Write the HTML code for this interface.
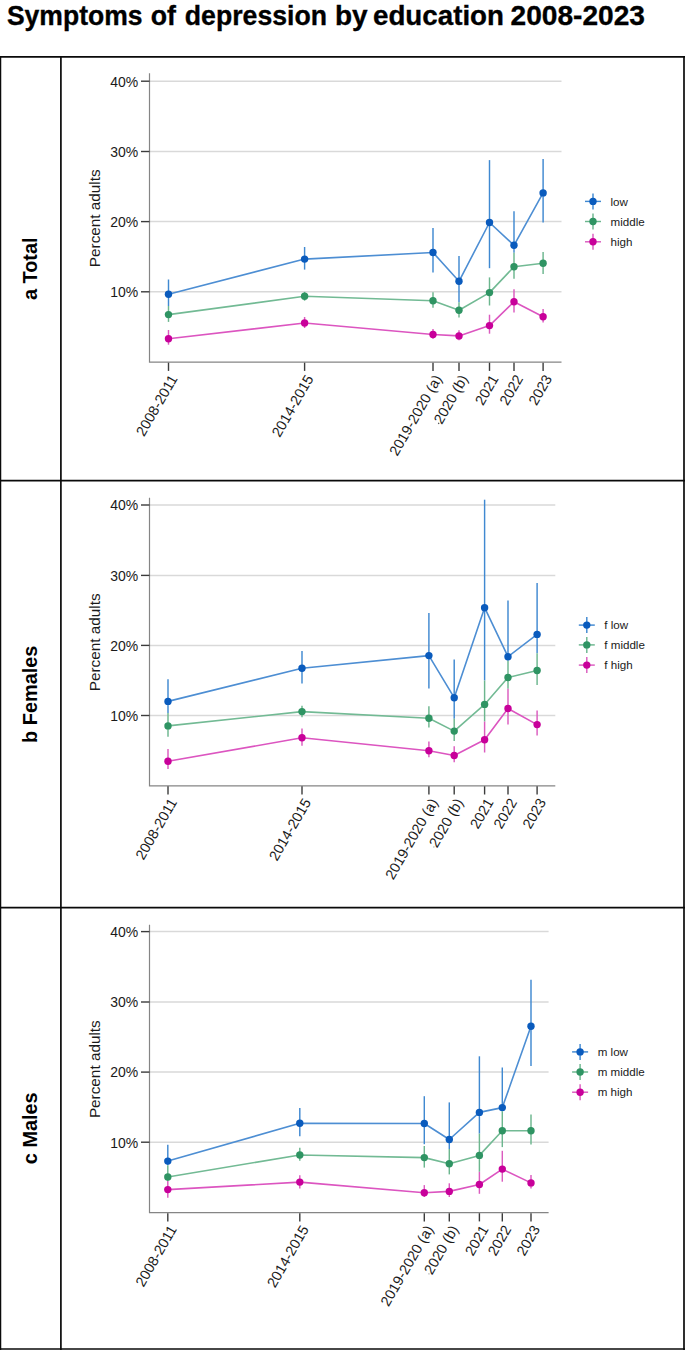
<!DOCTYPE html>
<html><head><meta charset="utf-8"><title>Symptoms of depression by education 2008-2023</title>
<style>
html,body{margin:0;padding:0;background:#fff;}
body{width:685px;height:1350px;overflow:hidden;font-family:"Liberation Sans", sans-serif;}
svg{display:block;}
.t{font-family:"Liberation Sans", sans-serif;}
</style></head><body>
<svg width="685" height="1350" viewBox="0 0 685 1350">
<rect x="0" y="0" width="685" height="1350" fill="#fff"/>
<text class="t" x="6.9" y="25.1" font-size="28.4" font-weight="bold" fill="#000" stroke="#000" stroke-width="0.35" textLength="135.7" lengthAdjust="spacingAndGlyphs">Symptoms</text>
<text class="t" x="150.8" y="25.1" font-size="28.4" font-weight="bold" fill="#000" stroke="#000" stroke-width="0.35" textLength="25.2" lengthAdjust="spacingAndGlyphs">of</text>
<text class="t" x="184.8" y="25.1" font-size="28.4" font-weight="bold" fill="#000" stroke="#000" stroke-width="0.35" textLength="142.2" lengthAdjust="spacingAndGlyphs">depression</text>
<text class="t" x="335" y="25.1" font-size="28.4" font-weight="bold" fill="#000" stroke="#000" stroke-width="0.35" textLength="32.7" lengthAdjust="spacingAndGlyphs">by</text>
<text class="t" x="373" y="25.1" font-size="28.4" font-weight="bold" fill="#000" stroke="#000" stroke-width="0.35" textLength="131" lengthAdjust="spacingAndGlyphs">education</text>
<text class="t" x="510.5" y="25.1" font-size="28.4" font-weight="bold" fill="#000" stroke="#000" stroke-width="0.35" textLength="134.5" lengthAdjust="spacingAndGlyphs">2008-2023</text>
<g stroke="#0a0a0a" stroke-width="1.7" fill="none">
<line x1="0" y1="56.9" x2="685" y2="56.9"/>
<line x1="0" y1="480.7" x2="685" y2="480.7"/>
<line x1="0" y1="907.7" x2="685" y2="907.7"/>
<line x1="0" y1="1349" x2="685" y2="1349"/>
<line x1="0.6" y1="56" x2="0.6" y2="1350" stroke-width="1.3"/>
<line x1="60.9" y1="56" x2="60.9" y2="1350"/>
<line x1="684" y1="56" x2="684" y2="1350"/>
</g>
<text class="t" x="0" y="0" font-size="19.9" font-weight="bold" fill="#000" text-anchor="middle" transform="translate(37.2 268.75) rotate(-90)">a Total</text>
<g stroke="#d9d9d9" stroke-width="1.5">
<line x1="149.5" y1="81.2" x2="561.5" y2="81.2"/>
<line x1="149.5" y1="151.5" x2="561.5" y2="151.5"/>
<line x1="149.5" y1="221.6" x2="561.5" y2="221.6"/>
<line x1="149.5" y1="291.8" x2="561.5" y2="291.8"/>
</g>
<g stroke="#858585" stroke-width="1.2" fill="none">
<polyline points="149.5,73.3 149.5,362.2 561.5,362.2"/>
</g>
<g stroke="#3c3c3c" stroke-width="1.4">
<line x1="141" y1="81.2" x2="149.5" y2="81.2"/>
<line x1="141" y1="151.5" x2="149.5" y2="151.5"/>
<line x1="141" y1="221.6" x2="149.5" y2="221.6"/>
<line x1="141" y1="291.8" x2="149.5" y2="291.8"/>
<line x1="168.5" y1="362.7" x2="168.5" y2="370.9"/>
<line x1="304.6" y1="362.7" x2="304.6" y2="370.9"/>
<line x1="433" y1="362.7" x2="433" y2="370.9"/>
<line x1="459" y1="362.7" x2="459" y2="370.9"/>
<line x1="489.5" y1="362.7" x2="489.5" y2="370.9"/>
<line x1="514" y1="362.7" x2="514" y2="370.9"/>
<line x1="543.1" y1="362.7" x2="543.1" y2="370.9"/>
</g>
<text class="t" x="0" y="0" font-size="15.2" fill="#1a1a1a" text-anchor="end" transform="translate(138.2 86.5) scale(0.92 1)">40%</text>
<text class="t" x="0" y="0" font-size="15.2" fill="#1a1a1a" text-anchor="end" transform="translate(138.2 156.8) scale(0.92 1)">30%</text>
<text class="t" x="0" y="0" font-size="15.2" fill="#1a1a1a" text-anchor="end" transform="translate(138.2 226.9) scale(0.92 1)">20%</text>
<text class="t" x="0" y="0" font-size="15.2" fill="#1a1a1a" text-anchor="end" transform="translate(138.2 297.1) scale(0.92 1)">10%</text>
<text class="t" x="0" y="0" font-size="15.3" fill="#1a1a1a" text-anchor="middle" transform="translate(100.3 218.25) rotate(-90)">Percent adults</text>
<text class="t" x="0" y="0" font-size="14.4" fill="#1a1a1a" text-anchor="end" transform="translate(178 378.5) rotate(-60)">2008-2011</text>
<text class="t" x="0" y="0" font-size="14.4" fill="#1a1a1a" text-anchor="end" transform="translate(314.1 378.5) rotate(-60)">2014-2015</text>
<text class="t" x="0" y="0" font-size="14.4" fill="#1a1a1a" text-anchor="end" transform="translate(442.5 378.5) rotate(-60)">2019-2020 (a)</text>
<text class="t" x="0" y="0" font-size="14.4" fill="#1a1a1a" text-anchor="end" transform="translate(468.5 378.5) rotate(-60)">2020 (b)</text>
<circle cx="-53.8" cy="-3.4" r="0.75" fill="#555" transform="translate(468.5 378.5) rotate(-60)"/>
<text class="t" x="0" y="0" font-size="14.4" fill="#1a1a1a" text-anchor="end" transform="translate(499 378.5) rotate(-60)">2021</text>
<text class="t" x="0" y="0" font-size="14.4" fill="#1a1a1a" text-anchor="end" transform="translate(523.5 378.5) rotate(-60)">2022</text>
<text class="t" x="0" y="0" font-size="14.4" fill="#1a1a1a" text-anchor="end" transform="translate(552.6 378.5) rotate(-60)">2023</text>
<g stroke="#4089d1" stroke-width="1.45">
<line x1="168.5" y1="279.5" x2="168.5" y2="306"/>
<line x1="304.6" y1="247" x2="304.6" y2="269.6"/>
<line x1="433" y1="228" x2="433" y2="272.6"/>
<line x1="459" y1="256.1" x2="459" y2="302.2"/>
<line x1="489.5" y1="160.1" x2="489.5" y2="268.2"/>
<line x1="514" y1="211.2" x2="514" y2="252.7"/>
<line x1="543.1" y1="159.1" x2="543.1" y2="222.5"/>
</g>
<polyline fill="none" stroke="#4d8ed3" stroke-width="1.6" stroke-linejoin="round" points="168.5,294.2 304.6,259.1 433,252.5 459,281.3 489.5,222.5 514,245.3 543.1,192.9"/>
<g fill="#0a5bbd">
<circle cx="168.5" cy="294.2" r="3.7"/>
<circle cx="304.6" cy="259.1" r="3.7"/>
<circle cx="433" cy="252.5" r="3.7"/>
<circle cx="459" cy="281.3" r="3.7"/>
<circle cx="489.5" cy="222.5" r="3.7"/>
<circle cx="514" cy="245.3" r="3.7"/>
<circle cx="543.1" cy="192.9" r="3.7"/>
</g>
<g stroke="#6cb68e" stroke-width="1.45">
<line x1="168.5" y1="306" x2="168.5" y2="321.9"/>
<line x1="304.6" y1="291.9" x2="304.6" y2="300.7"/>
<line x1="433" y1="292.3" x2="433" y2="307.8"/>
<line x1="459" y1="302.2" x2="459" y2="317.6"/>
<line x1="489.5" y1="277.4" x2="489.5" y2="305.5"/>
<line x1="514" y1="252.7" x2="514" y2="278.8"/>
<line x1="543.1" y1="252" x2="543.1" y2="273.9"/>
</g>
<polyline fill="none" stroke="#72ba94" stroke-width="1.6" stroke-linejoin="round" points="168.5,314.6 304.6,296.3 433,300.7 459,310.3 489.5,292.6 514,266.8 543.1,263.3"/>
<g fill="#2f9463">
<circle cx="168.5" cy="314.6" r="3.7"/>
<circle cx="304.6" cy="296.3" r="3.7"/>
<circle cx="433" cy="300.7" r="3.7"/>
<circle cx="459" cy="310.3" r="3.7"/>
<circle cx="489.5" cy="292.6" r="3.7"/>
<circle cx="514" cy="266.8" r="3.7"/>
<circle cx="543.1" cy="263.3" r="3.7"/>
</g>
<g stroke="#db5cbf" stroke-width="1.45">
<line x1="168.5" y1="330" x2="168.5" y2="344.7"/>
<line x1="304.6" y1="317" x2="304.6" y2="328"/>
<line x1="433" y1="328.9" x2="433" y2="338.7"/>
<line x1="459" y1="330.3" x2="459" y2="340.2"/>
<line x1="489.5" y1="314.7" x2="489.5" y2="333.7"/>
<line x1="514" y1="289.3" x2="514" y2="312.6"/>
<line x1="543.1" y1="309" x2="543.1" y2="322.4"/>
</g>
<polyline fill="none" stroke="#dc55c0" stroke-width="1.6" stroke-linejoin="round" points="168.5,338.8 304.6,323 433,334.5 459,335.9 489.5,325.6 514,301.7 543.1,316.8"/>
<g fill="#c8009a">
<circle cx="168.5" cy="338.8" r="3.7"/>
<circle cx="304.6" cy="323" r="3.7"/>
<circle cx="433" cy="334.5" r="3.7"/>
<circle cx="459" cy="335.9" r="3.7"/>
<circle cx="489.5" cy="325.6" r="3.7"/>
<circle cx="514" cy="301.7" r="3.7"/>
<circle cx="543.1" cy="316.8" r="3.7"/>
</g>
<line x1="585" y1="201.4" x2="601" y2="201.4" stroke="#4089d1" stroke-width="1.45"/>
<line x1="593" y1="193.4" x2="593" y2="209.4" stroke="#4089d1" stroke-width="1.45"/>
<circle cx="593" cy="201.4" r="3.7" fill="#0a5bbd"/>
<text class="t" x="610.5" y="205.6" font-size="11.6" fill="#1a1a1a">low</text>
<line x1="585" y1="221.5" x2="601" y2="221.5" stroke="#6cb68e" stroke-width="1.45"/>
<line x1="593" y1="213.5" x2="593" y2="229.5" stroke="#6cb68e" stroke-width="1.45"/>
<circle cx="593" cy="221.5" r="3.7" fill="#2f9463"/>
<text class="t" x="610.5" y="225.7" font-size="11.6" fill="#1a1a1a">middle</text>
<line x1="585" y1="241.8" x2="601" y2="241.8" stroke="#db5cbf" stroke-width="1.45"/>
<line x1="593" y1="233.8" x2="593" y2="249.8" stroke="#db5cbf" stroke-width="1.45"/>
<circle cx="593" cy="241.8" r="3.7" fill="#c8009a"/>
<text class="t" x="610.5" y="246" font-size="11.6" fill="#1a1a1a">high</text>
<text class="t" x="0" y="0" font-size="19.9" font-weight="bold" fill="#000" text-anchor="middle" transform="translate(37.2 694.25) rotate(-90)">b Females</text>
<g stroke="#d9d9d9" stroke-width="1.5">
<line x1="149.5" y1="505" x2="555.3" y2="505"/>
<line x1="149.5" y1="575.4" x2="555.3" y2="575.4"/>
<line x1="149.5" y1="645.4" x2="555.3" y2="645.4"/>
<line x1="149.5" y1="715.5" x2="555.3" y2="715.5"/>
</g>
<g stroke="#858585" stroke-width="1.2" fill="none">
<polyline points="149.5,497.8 149.5,785.8 555.3,785.8"/>
</g>
<g stroke="#3c3c3c" stroke-width="1.4">
<line x1="141" y1="505" x2="149.5" y2="505"/>
<line x1="141" y1="575.4" x2="149.5" y2="575.4"/>
<line x1="141" y1="645.4" x2="149.5" y2="645.4"/>
<line x1="141" y1="715.5" x2="149.5" y2="715.5"/>
<line x1="168" y1="786.3" x2="168" y2="794.5"/>
<line x1="302" y1="786.3" x2="302" y2="794.5"/>
<line x1="428.9" y1="786.3" x2="428.9" y2="794.5"/>
<line x1="454.2" y1="786.3" x2="454.2" y2="794.5"/>
<line x1="484.6" y1="786.3" x2="484.6" y2="794.5"/>
<line x1="508" y1="786.3" x2="508" y2="794.5"/>
<line x1="537.1" y1="786.3" x2="537.1" y2="794.5"/>
</g>
<text class="t" x="0" y="0" font-size="15.2" fill="#1a1a1a" text-anchor="end" transform="translate(138.2 510.3) scale(0.92 1)">40%</text>
<text class="t" x="0" y="0" font-size="15.2" fill="#1a1a1a" text-anchor="end" transform="translate(138.2 580.7) scale(0.92 1)">30%</text>
<text class="t" x="0" y="0" font-size="15.2" fill="#1a1a1a" text-anchor="end" transform="translate(138.2 650.7) scale(0.92 1)">20%</text>
<text class="t" x="0" y="0" font-size="15.2" fill="#1a1a1a" text-anchor="end" transform="translate(138.2 720.8) scale(0.92 1)">10%</text>
<text class="t" x="0" y="0" font-size="15.3" fill="#1a1a1a" text-anchor="middle" transform="translate(100.3 642.3) rotate(-90)">Percent adults</text>
<text class="t" x="0" y="0" font-size="14.4" fill="#1a1a1a" text-anchor="end" transform="translate(177.5 802.1) rotate(-60)">2008-2011</text>
<text class="t" x="0" y="0" font-size="14.4" fill="#1a1a1a" text-anchor="end" transform="translate(311.5 802.1) rotate(-60)">2014-2015</text>
<text class="t" x="0" y="0" font-size="14.4" fill="#1a1a1a" text-anchor="end" transform="translate(438.4 802.1) rotate(-60)">2019-2020 (a)</text>
<text class="t" x="0" y="0" font-size="14.4" fill="#1a1a1a" text-anchor="end" transform="translate(463.7 802.1) rotate(-60)">2020 (b)</text>
<circle cx="-53.8" cy="-3.4" r="0.75" fill="#b5b5b5" transform="translate(463.7 802.1) rotate(-60)"/>
<text class="t" x="0" y="0" font-size="14.4" fill="#1a1a1a" text-anchor="end" transform="translate(494.1 802.1) rotate(-60)">2021</text>
<text class="t" x="0" y="0" font-size="14.4" fill="#1a1a1a" text-anchor="end" transform="translate(517.5 802.1) rotate(-60)">2022</text>
<text class="t" x="0" y="0" font-size="14.4" fill="#1a1a1a" text-anchor="end" transform="translate(546.6 802.1) rotate(-60)">2023</text>
<g stroke="#4089d1" stroke-width="1.45">
<line x1="168" y1="679.2" x2="168" y2="713.1"/>
<line x1="302" y1="651.1" x2="302" y2="683.6"/>
<line x1="428.9" y1="612.9" x2="428.9" y2="688.4"/>
<line x1="454.2" y1="659.5" x2="454.2" y2="718.7"/>
<line x1="484.6" y1="499.7" x2="484.6" y2="680.5"/>
<line x1="508" y1="600.6" x2="508" y2="660.8"/>
<line x1="537.1" y1="583" x2="537.1" y2="653.3"/>
</g>
<polyline fill="none" stroke="#4d8ed3" stroke-width="1.6" stroke-linejoin="round" points="168,701.4 302,668.3 428.9,655.6 454.2,697.7 484.6,607.7 508,656.7 537.1,634.4"/>
<g fill="#0a5bbd">
<circle cx="168" cy="701.4" r="3.7"/>
<circle cx="302" cy="668.3" r="3.7"/>
<circle cx="428.9" cy="655.6" r="3.7"/>
<circle cx="454.2" cy="697.7" r="3.7"/>
<circle cx="484.6" cy="607.7" r="3.7"/>
<circle cx="508" cy="656.7" r="3.7"/>
<circle cx="537.1" cy="634.4" r="3.7"/>
</g>
<g stroke="#6cb68e" stroke-width="1.45">
<line x1="168" y1="713.1" x2="168" y2="736.7"/>
<line x1="302" y1="705.8" x2="302" y2="717.3"/>
<line x1="428.9" y1="706.2" x2="428.9" y2="727.6"/>
<line x1="454.2" y1="718.7" x2="454.2" y2="740.9"/>
<line x1="484.6" y1="680.5" x2="484.6" y2="721.6"/>
<line x1="508" y1="660.8" x2="508" y2="688.7"/>
<line x1="537.1" y1="653.3" x2="537.1" y2="685"/>
</g>
<polyline fill="none" stroke="#72ba94" stroke-width="1.6" stroke-linejoin="round" points="168,725.9 302,711.6 428.9,718.3 454.2,731.1 484.6,704.4 508,677.5 537.1,670.5"/>
<g fill="#2f9463">
<circle cx="168" cy="725.9" r="3.7"/>
<circle cx="302" cy="711.6" r="3.7"/>
<circle cx="428.9" cy="718.3" r="3.7"/>
<circle cx="454.2" cy="731.1" r="3.7"/>
<circle cx="484.6" cy="704.4" r="3.7"/>
<circle cx="508" cy="677.5" r="3.7"/>
<circle cx="537.1" cy="670.5" r="3.7"/>
</g>
<g stroke="#db5cbf" stroke-width="1.45">
<line x1="168" y1="749.1" x2="168" y2="769.1"/>
<line x1="302" y1="728.4" x2="302" y2="745.8"/>
<line x1="428.9" y1="741.4" x2="428.9" y2="757.2"/>
<line x1="454.2" y1="746.2" x2="454.2" y2="762.2"/>
<line x1="484.6" y1="721.6" x2="484.6" y2="752.5"/>
<line x1="508" y1="688.7" x2="508" y2="724.6"/>
<line x1="537.1" y1="710.6" x2="537.1" y2="735.5"/>
</g>
<polyline fill="none" stroke="#dc55c0" stroke-width="1.6" stroke-linejoin="round" points="168,761.3 302,737.8 428.9,750.7 454.2,755.5 484.6,739.8 508,708.5 537.1,724.6"/>
<g fill="#c8009a">
<circle cx="168" cy="761.3" r="3.7"/>
<circle cx="302" cy="737.8" r="3.7"/>
<circle cx="428.9" cy="750.7" r="3.7"/>
<circle cx="454.2" cy="755.5" r="3.7"/>
<circle cx="484.6" cy="739.8" r="3.7"/>
<circle cx="508" cy="708.5" r="3.7"/>
<circle cx="537.1" cy="724.6" r="3.7"/>
</g>
<line x1="578.8" y1="625.1" x2="594.8" y2="625.1" stroke="#4089d1" stroke-width="1.45"/>
<line x1="586.8" y1="617.1" x2="586.8" y2="633.1" stroke="#4089d1" stroke-width="1.45"/>
<circle cx="586.8" cy="625.1" r="3.7" fill="#0a5bbd"/>
<text class="t" x="604.3" y="629.3" font-size="11.6" fill="#1a1a1a">f low</text>
<line x1="578.8" y1="644.9" x2="594.8" y2="644.9" stroke="#6cb68e" stroke-width="1.45"/>
<line x1="586.8" y1="636.9" x2="586.8" y2="652.9" stroke="#6cb68e" stroke-width="1.45"/>
<circle cx="586.8" cy="644.9" r="3.7" fill="#2f9463"/>
<text class="t" x="604.3" y="649.1" font-size="11.6" fill="#1a1a1a">f middle</text>
<line x1="578.8" y1="665.1" x2="594.8" y2="665.1" stroke="#db5cbf" stroke-width="1.45"/>
<line x1="586.8" y1="657.1" x2="586.8" y2="673.1" stroke="#db5cbf" stroke-width="1.45"/>
<circle cx="586.8" cy="665.1" r="3.7" fill="#c8009a"/>
<text class="t" x="604.3" y="669.3" font-size="11.6" fill="#1a1a1a">f high</text>
<text class="t" x="0" y="0" font-size="19.9" font-weight="bold" fill="#000" text-anchor="middle" transform="translate(37.2 1128.25) rotate(-90)">c Males</text>
<g stroke="#d9d9d9" stroke-width="1.5">
<line x1="149.5" y1="931.6" x2="548.6" y2="931.6"/>
<line x1="149.5" y1="1002" x2="548.6" y2="1002"/>
<line x1="149.5" y1="1072.1" x2="548.6" y2="1072.1"/>
<line x1="149.5" y1="1142.2" x2="548.6" y2="1142.2"/>
</g>
<g stroke="#858585" stroke-width="1.2" fill="none">
<polyline points="149.5,924.7 149.5,1212.7 548.6,1212.7"/>
</g>
<g stroke="#3c3c3c" stroke-width="1.4">
<line x1="141" y1="931.6" x2="149.5" y2="931.6"/>
<line x1="141" y1="1002" x2="149.5" y2="1002"/>
<line x1="141" y1="1072.1" x2="149.5" y2="1072.1"/>
<line x1="141" y1="1142.2" x2="149.5" y2="1142.2"/>
<line x1="167.8" y1="1213.2" x2="167.8" y2="1221.4"/>
<line x1="299.8" y1="1213.2" x2="299.8" y2="1221.4"/>
<line x1="424.3" y1="1213.2" x2="424.3" y2="1221.4"/>
<line x1="449.3" y1="1213.2" x2="449.3" y2="1221.4"/>
<line x1="479.4" y1="1213.2" x2="479.4" y2="1221.4"/>
<line x1="502.3" y1="1213.2" x2="502.3" y2="1221.4"/>
<line x1="531" y1="1213.2" x2="531" y2="1221.4"/>
</g>
<text class="t" x="0" y="0" font-size="15.2" fill="#1a1a1a" text-anchor="end" transform="translate(138.2 936.9) scale(0.92 1)">40%</text>
<text class="t" x="0" y="0" font-size="15.2" fill="#1a1a1a" text-anchor="end" transform="translate(138.2 1007.3) scale(0.92 1)">30%</text>
<text class="t" x="0" y="0" font-size="15.2" fill="#1a1a1a" text-anchor="end" transform="translate(138.2 1077.4) scale(0.92 1)">20%</text>
<text class="t" x="0" y="0" font-size="15.2" fill="#1a1a1a" text-anchor="end" transform="translate(138.2 1147.5) scale(0.92 1)">10%</text>
<text class="t" x="0" y="0" font-size="15.3" fill="#1a1a1a" text-anchor="middle" transform="translate(100.3 1069.2) rotate(-90)">Percent adults</text>
<text class="t" x="0" y="0" font-size="14.4" fill="#1a1a1a" text-anchor="end" transform="translate(177.3 1229) rotate(-60)">2008-2011</text>
<text class="t" x="0" y="0" font-size="14.4" fill="#1a1a1a" text-anchor="end" transform="translate(309.3 1229) rotate(-60)">2014-2015</text>
<text class="t" x="0" y="0" font-size="14.4" fill="#1a1a1a" text-anchor="end" transform="translate(433.8 1229) rotate(-60)">2019-2020 (a)</text>
<text class="t" x="0" y="0" font-size="14.4" fill="#1a1a1a" text-anchor="end" transform="translate(458.8 1229) rotate(-60)">2020 (b)</text>
<circle cx="-53.8" cy="-3.4" r="0.75" fill="#b5b5b5" transform="translate(458.8 1229) rotate(-60)"/>
<text class="t" x="0" y="0" font-size="14.4" fill="#1a1a1a" text-anchor="end" transform="translate(488.9 1229) rotate(-60)">2021</text>
<text class="t" x="0" y="0" font-size="14.4" fill="#1a1a1a" text-anchor="end" transform="translate(511.8 1229) rotate(-60)">2022</text>
<text class="t" x="0" y="0" font-size="14.4" fill="#1a1a1a" text-anchor="end" transform="translate(540.5 1229) rotate(-60)">2023</text>
<g stroke="#4089d1" stroke-width="1.45">
<line x1="167.8" y1="1144.8" x2="167.8" y2="1165.2"/>
<line x1="299.8" y1="1108.1" x2="299.8" y2="1136.3"/>
<line x1="424.3" y1="1096.2" x2="424.3" y2="1144.2"/>
<line x1="449.3" y1="1102.4" x2="449.3" y2="1149"/>
<line x1="479.4" y1="1056.3" x2="479.4" y2="1133.6"/>
<line x1="502.3" y1="1067.5" x2="502.3" y2="1111.3"/>
<line x1="531" y1="979.7" x2="531" y2="1066"/>
</g>
<polyline fill="none" stroke="#4d8ed3" stroke-width="1.6" stroke-linejoin="round" points="167.8,1161.1 299.8,1123.3 424.3,1123.5 449.3,1139.5 479.4,1112.4 502.3,1107.6 531,1026.3"/>
<g fill="#0a5bbd">
<circle cx="167.8" cy="1161.1" r="3.7"/>
<circle cx="299.8" cy="1123.3" r="3.7"/>
<circle cx="424.3" cy="1123.5" r="3.7"/>
<circle cx="449.3" cy="1139.5" r="3.7"/>
<circle cx="479.4" cy="1112.4" r="3.7"/>
<circle cx="502.3" cy="1107.6" r="3.7"/>
<circle cx="531" cy="1026.3" r="3.7"/>
</g>
<g stroke="#6cb68e" stroke-width="1.45">
<line x1="167.8" y1="1165.2" x2="167.8" y2="1181.1"/>
<line x1="299.8" y1="1147.8" x2="299.8" y2="1160.7"/>
<line x1="424.3" y1="1146" x2="424.3" y2="1167.6"/>
<line x1="449.3" y1="1149" x2="449.3" y2="1174.4"/>
<line x1="479.4" y1="1133.6" x2="479.4" y2="1171.8"/>
<line x1="502.3" y1="1111.3" x2="502.3" y2="1147.1"/>
<line x1="531" y1="1114.4" x2="531" y2="1144.4"/>
</g>
<polyline fill="none" stroke="#72ba94" stroke-width="1.6" stroke-linejoin="round" points="167.8,1177 299.8,1155 424.3,1157.6 449.3,1163.8 479.4,1155.4 502.3,1130.7 531,1130.7"/>
<g fill="#2f9463">
<circle cx="167.8" cy="1177" r="3.7"/>
<circle cx="299.8" cy="1155" r="3.7"/>
<circle cx="424.3" cy="1157.6" r="3.7"/>
<circle cx="449.3" cy="1163.8" r="3.7"/>
<circle cx="479.4" cy="1155.4" r="3.7"/>
<circle cx="502.3" cy="1130.7" r="3.7"/>
<circle cx="531" cy="1130.7" r="3.7"/>
</g>
<g stroke="#db5cbf" stroke-width="1.45">
<line x1="167.8" y1="1181.1" x2="167.8" y2="1197.8"/>
<line x1="299.8" y1="1175.2" x2="299.8" y2="1188.5"/>
<line x1="424.3" y1="1185.1" x2="424.3" y2="1197"/>
<line x1="449.3" y1="1183.3" x2="449.3" y2="1197"/>
<line x1="479.4" y1="1171.8" x2="479.4" y2="1193.8"/>
<line x1="502.3" y1="1150.8" x2="502.3" y2="1181.7"/>
<line x1="531" y1="1175" x2="531" y2="1188.5"/>
</g>
<polyline fill="none" stroke="#dc55c0" stroke-width="1.6" stroke-linejoin="round" points="167.8,1189.6 299.8,1182.1 424.3,1192.8 449.3,1191.4 479.4,1184.5 502.3,1169.1 531,1182.9"/>
<g fill="#c8009a">
<circle cx="167.8" cy="1189.6" r="3.7"/>
<circle cx="299.8" cy="1182.1" r="3.7"/>
<circle cx="424.3" cy="1192.8" r="3.7"/>
<circle cx="449.3" cy="1191.4" r="3.7"/>
<circle cx="479.4" cy="1184.5" r="3.7"/>
<circle cx="502.3" cy="1169.1" r="3.7"/>
<circle cx="531" cy="1182.9" r="3.7"/>
</g>
<line x1="572.1" y1="1051.9" x2="588.1" y2="1051.9" stroke="#4089d1" stroke-width="1.45"/>
<line x1="580.1" y1="1043.9" x2="580.1" y2="1059.9" stroke="#4089d1" stroke-width="1.45"/>
<circle cx="580.1" cy="1051.9" r="3.7" fill="#0a5bbd"/>
<text class="t" x="597.7" y="1056.1" font-size="11.6" fill="#1a1a1a">m low</text>
<line x1="572.1" y1="1072" x2="588.1" y2="1072" stroke="#6cb68e" stroke-width="1.45"/>
<line x1="580.1" y1="1064" x2="580.1" y2="1080" stroke="#6cb68e" stroke-width="1.45"/>
<circle cx="580.1" cy="1072" r="3.7" fill="#2f9463"/>
<text class="t" x="597.7" y="1076.2" font-size="11.6" fill="#1a1a1a">m middle</text>
<line x1="572.1" y1="1092.2" x2="588.1" y2="1092.2" stroke="#db5cbf" stroke-width="1.45"/>
<line x1="580.1" y1="1084.2" x2="580.1" y2="1100.2" stroke="#db5cbf" stroke-width="1.45"/>
<circle cx="580.1" cy="1092.2" r="3.7" fill="#c8009a"/>
<text class="t" x="597.7" y="1096.4" font-size="11.6" fill="#1a1a1a">m high</text>
</svg>
</body></html>
